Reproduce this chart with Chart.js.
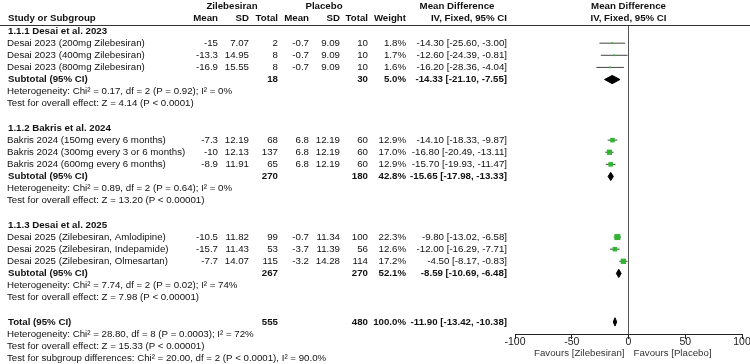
<!DOCTYPE html>
<html>
<head>
<meta charset="utf-8">
<script src="https://cdn.jsdelivr.net/npm/chart.js@4.4.0/dist/chart.umd.min.js"></script>
<style>
body { margin: 0; background: #fff; }
</style>
</head>
<body>
<canvas id="forest" width="750" height="364"></canvas>
<script>
// subgroups
const groupNames = ['1.1.1 Desai et al. 2023', '1.1.2 Bakris et al. 2024', '1.1.3 Desai et al. 2025'];

// studies, three per subgroup
const studyNames = [
    'Desai 2023 (200mg Zilebesiran)', 'Desai 2023 (400mg Zilebesiran)', 'Desai 2023 (800mg Zilebesiran)',
    'Bakris 2024 (150mg every 6 months)', 'Bakris 2024 (300mg every 3 or 6 months)', 'Bakris 2024 (600mg every 6 months)',
    'Desai 2025 (Zilebesiran, Amlodipine)', 'Desai 2025 (Zilebesiran, Indepamide)', 'Desai 2025 (Zilebesiran, Olmesartan)'
];
const zilMean = [-15, -13.3, -16.9, -7.3, -10, -8.9, -10.5, -15.7, -7.7];
const zilSD = [7.07, 14.95, 15.55, 12.19, 12.13, 11.91, 11.82, 11.43, 14.07];
const zilN = [2, 8, 8, 68, 137, 65, 99, 53, 115];
const plaMean = [-0.7, -0.7, -0.7, 6.8, 6.8, 6.8, -0.7, -3.7, -3.2];
const plaSD = [9.09, 9.09, 9.09, 12.19, 12.19, 12.19, 11.34, 11.39, 14.28];
const plaN = [10, 10, 10, 60, 60, 60, 100, 56, 114];
const weight = [1.8, 1.7, 1.6, 12.9, 17.0, 12.9, 22.3, 12.6, 17.2];
const md = [-14.30, -12.60, -16.20, -14.10, -16.80, -15.70, -9.80, -12.00, -4.50];
const mdLow = [-25.60, -24.39, -28.36, -18.33, -20.49, -19.93, -13.02, -16.29, -8.17];
const mdHigh = [-3.00, -0.81, -4.04, -9.87, -13.11, -11.47, -6.58, -7.71, -0.83];

// subgroup subtotals
const subZilN = [18, 270, 267];
const subPlaN = [30, 180, 270];
const subWeight = [5.0, 42.8, 52.1];
const subMd = [-14.33, -15.65, -8.59];
const subLow = [-21.10, -17.98, -10.69];
const subHigh = [-7.55, -13.33, -6.48];
const subHet = [
    'Heterogeneity: Chi² = 0.17, df = 2 (P = 0.92); I² = 0%',
    'Heterogeneity: Chi² = 0.89, df = 2 (P = 0.64); I² = 0%',
    'Heterogeneity: Chi² = 7.74, df = 2 (P = 0.02); I² = 74%'
];
const subTest = [
    'Test for overall effect: Z = 4.14 (P < 0.0001)',
    'Test for overall effect: Z = 13.20 (P < 0.00001)',
    'Test for overall effect: Z = 7.98 (P < 0.00001)'
];

// overall
const totZilN = 555;
const totPlaN = 480;
const totWeight = 100.0;
const totMd = -11.90, totLow = -13.42, totHigh = -10.38;
const totLines = [
    'Heterogeneity: Chi² = 28.80, df = 8 (P = 0.0003); I² = 72%',
    'Test for overall effect: Z = 15.33 (P < 0.00001)',
    'Test for subgroup differences: Chi² = 20.00, df = 2 (P < 0.0001), I² = 90.0%'
];

const xTicks = [-100, -50, 0, 50, 100];

// row layout: each subgroup uses 8 lines
const studyRow = i => Math.floor(i / 3) * 8 + 1 + (i % 3);
const subRow = g => g * 8 + 4;
const totRow = 24;

const fontFam = '"Liberation Sans", Arial, sans-serif';
const fs = 9.7;
const ink = '#111';

function ciText(m, l, h) {
    return m.toFixed(2) + ' [' + l.toFixed(2) + ', ' + h.toFixed(2) + ']';
}

function diamond(m, l, h, row) {
    return {
        type: 'line',
        data: [{x: l, y: row}, {x: m, y: row - 0.34}, {x: h, y: row}, {x: m, y: row + 0.34}, {x: l, y: row}],
        borderColor: '#000',
        borderWidth: 1,
        backgroundColor: '#000',
        fill: 'shape',
        pointRadius: 0,
        tension: 0
    };
}

const datasets = [];
// study squares
datasets.push({
    type: 'scatter',
    data: md.map((v, i) => ({x: v, y: studyRow(i)})),
    pointStyle: 'rect',
    pointRadius: ctx => 0.9 * Math.sqrt(weight[ctx.dataIndex]),
    backgroundColor: '#2fb52f',
    borderColor: '#2fb52f',
    borderWidth: 0
});
// confidence intervals
md.forEach((v, i) => {
    datasets.push({
        type: 'line',
        data: [{x: mdLow[i], y: studyRow(i)}, {x: mdHigh[i], y: studyRow(i)}],
        borderColor: '#444',
        borderWidth: 1,
        pointRadius: 0
    });
});
// subtotal diamonds and total
subMd.forEach((v, g) => datasets.push(diamond(v, subLow[g], subHigh[g], subRow(g))));
datasets.push(diamond(totMd, totLow, totHigh, totRow));

const tablePlugin = {
    id: 'tableText',
    afterDraw(chart) {
        const ctx = chart.ctx;
        const ys = chart.scales.y;
        const xs = chart.scales.x;
        const ry = r => ys.getPixelForValue(r);
        ctx.save();
        ctx.fillStyle = ink;
        ctx.textBaseline = 'middle';
        function t(s, x, y, align, bold) {
            ctx.font = (bold ? 'bold ' : '') + fs + 'px ' + fontFam;
            ctx.textAlign = align || 'left';
            ctx.fillText(s, x, y);
        }
        const mid = (chart.chartArea.left + chart.chartArea.right) / 2;

        // header
        t('Zilebesiran', 232, 6, 'center', true);
        t('Placebo', 324, 6, 'center', true);
        t('Mean Difference', 457, 6, 'center', true);
        t('Mean Difference', mid, 6, 'center', true);
        t('Study or Subgroup', 8, 18, 'left', true);
        t('Mean', 218, 18, 'right', true);
        t('SD', 249, 18, 'right', true);
        t('Total', 278, 18, 'right', true);
        t('Mean', 309, 18, 'right', true);
        t('SD', 340, 18, 'right', true);
        t('Total', 368, 18, 'right', true);
        t('Weight', 406, 18, 'right', true);
        t('IV, Fixed, 95% CI', 507, 18, 'right', true);
        t('IV, Fixed, 95% CI', mid, 18, 'center', true);

        ctx.strokeStyle = '#333';
        ctx.lineWidth = 1;
        ctx.beginPath();
        ctx.moveTo(0, 25.5);
        ctx.lineTo(750, 25.5);
        ctx.stroke();

        groupNames.forEach((name, g) => {
            t(name, 8, ry(g * 8), 'left', true);
            const r = subRow(g);
            t('Subtotal (95% CI)', 8, ry(r), 'left', true);
            t(String(subZilN[g]), 278, ry(r), 'right', true);
            t(String(subPlaN[g]), 368, ry(r), 'right', true);
            t(subWeight[g].toFixed(1) + '%', 406, ry(r), 'right', true);
            t(ciText(subMd[g], subLow[g], subHigh[g]), 507, ry(r), 'right', true);
            t(subHet[g], 7, ry(r + 1), 'left');
            t(subTest[g], 7, ry(r + 2), 'left');
        });

        studyNames.forEach((name, i) => {
            const y = ry(studyRow(i));
            t(name, 7, y);
            t(String(zilMean[i]), 218, y, 'right');
            t(zilSD[i].toFixed(2), 249, y, 'right');
            t(String(zilN[i]), 278, y, 'right');
            t(String(plaMean[i]), 309, y, 'right');
            t(plaSD[i].toFixed(2), 340, y, 'right');
            t(String(plaN[i]), 368, y, 'right');
            t(weight[i].toFixed(1) + '%', 406, y, 'right');
            t(ciText(md[i], mdLow[i], mdHigh[i]), 507, y, 'right');
        });

        t('Total (95% CI)', 8, ry(totRow), 'left', true);
        t(String(totZilN), 278, ry(totRow), 'right', true);
        t(String(totPlaN), 368, ry(totRow), 'right', true);
        t(totWeight.toFixed(1) + '%', 406, ry(totRow), 'right', true);
        t(ciText(totMd, totLow, totHigh), 507, ry(totRow), 'right', true);
        totLines.forEach((s, k) => t(s, 7, ry(totRow + 1 + k), 'left'));

        // favours labels under the axis
        const zero = xs.getPixelForValue(0);
        ctx.fillStyle = '#333';
        t('Favours [Zilebesiran]', zero - 4, 353, 'right');
        t('Favours [Placebo]', zero + 5, 353, 'left');
        ctx.restore();
    }
};

new Chart(document.getElementById('forest'), {
    type: 'scatter',
    data: { datasets: datasets },
    options: {
        responsive: false,
        animation: false,
        layout: { padding: { left: 515, right: 8, top: 25, bottom: 18.4 } },
        plugins: { legend: { display: false }, tooltip: { enabled: false } },
        scales: {
            x: {
                type: 'linear',
                min: -100,
                max: 100,
                afterBuildTicks: axis => { axis.ticks = xTicks.map(v => ({value: v})); },
                ticks: { color: '#222', font: { family: fontFam, size: 10.5 }, padding: -3, maxRotation: 0 },
                grid: {
                    color: c => (c.tick && c.tick.value === 0) ? '#555' : 'rgba(0,0,0,0)',
                    tickColor: '#222',
                    tickLength: 5
                },
                border: { display: true, color: '#222' }
            },
            y: {
                type: 'linear',
                min: -0.5,
                max: 25,
                reverse: true,
                display: false
            }
        }
    },
    plugins: [tablePlugin]
});
</script>
</body>
</html>
